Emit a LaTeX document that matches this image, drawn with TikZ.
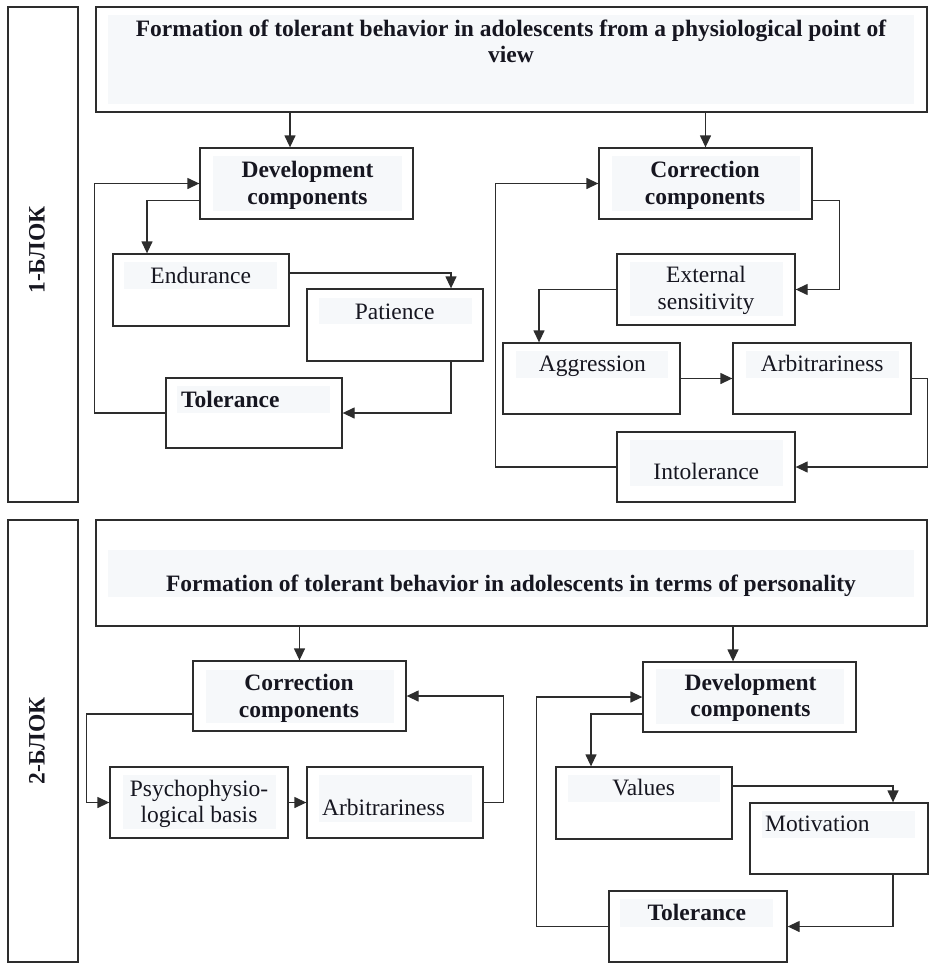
\documentclass[tikz,border=0pt]{standalone}
\usepackage{fontspec}
\setmainfont{Liberation Serif}
\usepackage{xcolor}
\usetikzlibrary{positioning,arrows.meta}
\definecolor{BoxGray}{RGB}{45,45,45}
\definecolor{ShadeBlue}{RGB}{246,248,250}
\definecolor{InkBlack}{RGB}{22,22,32}
\tikzset{
    blockbox/.style={draw=BoxGray, line width=1.3pt, inner sep=0pt},
    shadebg/.style={fill=ShadeBlue},
    txt/.style={font=\fontsize{23.5}{26.5}\selectfont, text=InkBlack, inner sep=0pt, align=center},
    btxt/.style={txt, font=\fontsize{23.5}{26.5}\selectfont\bfseries},
    link/.style={draw=BoxGray, line width=1.3pt},
    flow/.style={link, -{Triangle[length=12pt,width=11pt]}}
}
\begin{document}
\begin{tikzpicture}[x=1pt, y=-1pt]
    \useasboundingbox (0,0) rectangle (929,963);

    % ---------- 1-BLOCK ----------
    \node[blockbox, minimum width=70pt, minimum height=495pt] (lab1) at (43,254.5) {};
    \node[btxt, rotate=90] (lab1t) at (37,250) {1-БЛОК};

    % frames
    \node[blockbox, minimum width=831pt, minimum height=105pt] (head1) at (511.5,59.5) {};
    \node[blockbox, minimum width=213pt, minimum height=71pt] (dev1) at (306.5,183.5) {};
    \node[blockbox, minimum width=176pt, minimum height=72pt] (endur) at (201,290) {};
    \node[blockbox, minimum width=176pt, minimum height=72pt] (pat) at (395,325) {};
    \node[blockbox, minimum width=176pt, minimum height=70pt] (tol1) at (254,413) {};
    \node[blockbox, minimum width=213pt, minimum height=71pt] (corr1) at (705.5,183.5) {};
    \node[blockbox, minimum width=178pt, minimum height=71pt] (ext) at (706,289.5) {};
    \node[blockbox, minimum width=177pt, minimum height=71pt] (aggr) at (591.5,378.5) {};
    \node[blockbox, minimum width=178pt, minimum height=71pt] (arb1) at (822,378.5) {};
    \node[blockbox, minimum width=178pt, minimum height=70pt] (intol) at (706,467) {};

    % text shading
    \fill[shadebg] (108,15) rectangle (914,104);
    \fill[shadebg] (213,156) rectangle (402,211);
    \fill[shadebg] (124,262) rectangle (277,289);
    \fill[shadebg] (319,298) rectangle (472,324);
    \fill[shadebg] (177,386) rectangle (330,413);
    \fill[shadebg] (612,156) rectangle (800,211);
    \fill[shadebg] (630,262) rectangle (783,316);
    \fill[shadebg] (516,351) rectangle (668,378);
    \fill[shadebg] (746,351) rectangle (899,378);
    \fill[shadebg] (630,440) rectangle (783,486);

    % texts (base = last line)
    \node[btxt, anchor=base] (head1t) at (511,62.7) {Formation of tolerant behavior in adolescents from a physiological point of\\view};
    \node[btxt, anchor=base] (dev1t) at (307.5,204) {Development\\components};
    \node[txt, anchor=base] (endurt) at (200.7,283) {Endurance};
    \node[txt, anchor=base] (patt) at (394.7,319) {Patience};
    \node[btxt, anchor=base west] (tol1t) at (181,407) {Tolerance};
    \node[btxt, anchor=base] (corr1t) at (705,204) {Correction\\components};
    \node[txt, anchor=base] (extt) at (706,309) {External\\sensitivity};
    \node[txt, anchor=base] (aggrt) at (592.3,371.5) {Aggression};
    \node[txt, anchor=base] (arb1t) at (822.2,371.5) {Arbitrariness};
    \node[txt, anchor=base] (intolt) at (706.3,479) {Intolerance};

    % connectors
    \draw[flow] ([xshift=-16.5pt]dev1.north |- head1.south) -- ([xshift=-16.5pt]dev1.north);
    \draw[flow] (corr1.north |- head1.south) -- (corr1.north);
    \draw[flow] ([yshift=-17pt]dev1.west) -| ([xshift=-54pt]endur.north);
    \draw[flow] ([yshift=17pt]endur.east) -| ([xshift=56pt]pat.north);
    \draw[flow] ([xshift=56pt]pat.south) |- (tol1.east);
    \draw[flow] (tol1.west) -| ([xshift=-105pt]dev1.west) -- (dev1.west);
    \draw[flow] ([yshift=-17pt]corr1.east) -| ([xshift=44pt]ext.east) -- (ext.east);
    \draw[flow] (ext.west) -| ([xshift=-52.5pt]aggr.north);
    \draw[flow] (aggr.east) -- (arb1.west);
    \draw[flow] (arb1.east) -- ++(16,0) |- (intol.east);
    \draw[flow] (intol.west) -| ([xshift=-103pt]corr1.west) -- (corr1.west);

    % ---------- 2-BLOCK ----------
    \node[blockbox, minimum width=70pt, minimum height=442pt] (lab2) at (43,741) {};
    \node[btxt, rotate=90] (lab2t) at (37,741) {2-БЛОК};

    % frames
    \node[blockbox, minimum width=831pt, minimum height=106pt] (head2) at (511.5,573) {};
    \node[blockbox, minimum width=213pt, minimum height=70pt] (corr2) at (299.5,696) {};
    \node[blockbox, minimum width=178pt, minimum height=71pt] (psy) at (199,802.5) {};
    \node[blockbox, minimum width=176pt, minimum height=71pt] (arb2) at (395,802.5) {};
    \node[blockbox, minimum width=213pt, minimum height=70pt] (dev2) at (749.5,697) {};
    \node[blockbox, minimum width=176pt, minimum height=72pt] (val) at (644,803) {};
    \node[blockbox, minimum width=178pt, minimum height=71pt] (mot) at (839,838.5) {};
    \node[blockbox, minimum width=178pt, minimum height=71pt] (tol2) at (698,926.5) {};

    % text shading
    \fill[shadebg] (108,550) rectangle (914,597);
    \fill[shadebg] (206,670) rectangle (394,723);
    \fill[shadebg] (123,775) rectangle (276,829);
    \fill[shadebg] (319,775) rectangle (472,822);
    \fill[shadebg] (656,669) rectangle (844,724);
    \fill[shadebg] (568,775) rectangle (720,802);
    \fill[shadebg] (762,811) rectangle (915,838);
    \fill[shadebg] (620,899) rectangle (773,927);

    % texts
    \node[btxt, anchor=base] (head2t) at (511,591) {Formation of tolerant behavior in adolescents in terms of personality};
    \node[btxt, anchor=base] (corr2t) at (299,717) {Correction\\components};
    \node[txt, anchor=base] (psyt) at (199,822.7) {Psychophysio-\\logical basis};
    \node[txt, anchor=base west] (arb2t) at (322,815) {Arbitrariness};
    \node[btxt, anchor=base] (dev2t) at (750.5,716.7) {Development\\components};
    \node[txt, anchor=base] (valt) at (643.7,795.7) {Values};
    \node[txt, anchor=base west] (mott) at (765,831.7) {Motivation};
    \node[btxt, anchor=base] (tol2t) at (696.8,920) {Tolerance};

    % connectors
    \draw[flow] (corr2.north |- head2.south) -- (corr2.north);
    \draw[flow] ([xshift=-16.5pt]dev2.north |- head2.south) -- ([xshift=-16.5pt]dev2.north);
    \draw[flow] ([yshift=-18pt]corr2.west) -| ([xshift=-23pt]psy.west) -- (psy.west);
    \draw[flow] (psy.east) -- (arb2.west);
    \draw[flow] (arb2.east) -- ++(20,0) |- (corr2.east);
    \draw[flow] ([yshift=-17pt]dev2.west) -| ([xshift=-53pt]val.north);
    \draw[flow] ([yshift=17pt]val.east) -| ([xshift=54pt]mot.north);
    \draw[flow] ([xshift=54pt]mot.south) |- (tol2.east);
    \draw[flow] (tol2.west) -| ([xshift=-106pt]dev2.west) -- (dev2.west);
\end{tikzpicture}
\end{document}
